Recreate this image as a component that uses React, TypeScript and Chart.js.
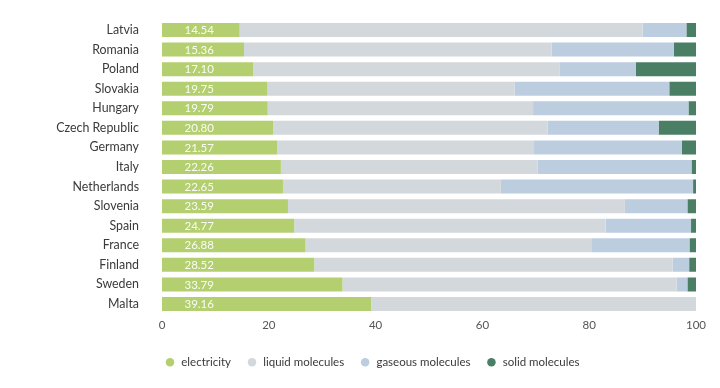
import React, { useEffect, useRef } from "react";
import { Chart, registerables } from "chart.js";

Chart.register(...registerables);

const countries = [
  "Latvia", "Romania", "Poland", "Slovakia", "Hungary", "Czech Republic", "Germany", "Italy",
  "Netherlands", "Slovenia", "Spain", "France", "Finland", "Sweden", "Malta",
];
const electricity = [14.54, 15.36, 17.1, 19.75, 19.79, 20.8, 21.57, 22.26, 22.65, 23.59, 24.77, 26.88, 28.52, 33.79, 39.16];
const liquidMolecules = [75.46, 57.6, 57.4, 46.25, 49.7, 51.4, 48.1, 48.1, 40.8, 63.1, 58.3, 53.5, 67.1, 62.6, 60.84];
const gaseousMolecules = [8.2, 22.9, 14.2, 29.0, 29.1, 20.8, 27.7, 28.8, 36.0, 11.7, 16.0, 18.4, 3.1, 2.0, 0];
const solidMolecules = [1.8, 4.14, 11.3, 5.0, 1.41, 7.0, 2.63, 0.84, 0.55, 1.61, 0.93, 1.22, 1.28, 1.61, 0];
const xTicks = [0, 20, 40, 60, 80, 100];

const FONT = "Lato, sans-serif";

const valueLabels = {
  id: "valueLabels",
  afterDatasetsDraw(chart: any) {
    const meta = chart.getDatasetMeta(0);
    const ctx = chart.ctx;
    ctx.save();
    ctx.font = `11.5px ${FONT}`;
    ctx.fillStyle = "rgba(255,255,255,0.92)";
    ctx.textAlign = "left";
    ctx.textBaseline = "middle";
    meta.data.forEach((el: any, i: number) => {
      ctx.fillText(electricity[i].toFixed(2), el.base + 22.5, el.y + 0.5);
    });
    ctx.restore();
  },
};

export default function App() {
  const ref = useRef<HTMLCanvasElement | null>(null);
  useEffect(() => {
    if (!ref.current) return;
    const chart = new Chart(ref.current, {
      type: "bar",
      data: {
        labels: countries,
        datasets: [
          { label: "electricity", data: electricity, backgroundColor: "#b4cf70" },
          { label: "liquid molecules", data: liquidMolecules, backgroundColor: "#d3d8dc" },
          { label: "gaseous molecules", data: gaseousMolecules, backgroundColor: "#bccde0" },
          { label: "solid molecules", data: solidMolecules, backgroundColor: "#4a7f65" },
        ],
      },
      options: {
        indexAxis: "y",
        animation: false,
        responsive: true,
        maintainAspectRatio: false,
        datasets: { bar: { categoryPercentage: 1, barPercentage: 0.715, borderWidth: 0 } },
        layout: { padding: { left: 40, right: 16, top: 12.2, bottom: 2 } },
        scales: {
          x: {
            stacked: true,
            min: 0,
            max: 100,
            afterBuildTicks: (scale: any) => {
              scale.ticks = xTicks.map((v) => ({ value: v }));
            },
            afterFit: (scale: any) => {
              scale.height = 27.2;
            },
            grid: { display: false, drawTicks: false },
            border: { display: false },
            ticks: { color: "#555", font: { family: FONT, size: 11.5 }, padding: 5 },
          },
          y: {
            stacked: true,
            grid: { display: false, drawTicks: false },
            border: { display: false },
            afterFit: (scale: any) => {
              scale.width = 114;
              scale.paddingTop = 0;
              scale.paddingBottom = 0;
            },
            ticks: { color: "#3a3a3a", font: { family: FONT, size: 12.4 }, padding: 23 },
          },
        },
        plugins: {
          legend: {
            position: "bottom",
            labels: {
              usePointStyle: true,
              pointStyle: "circle",
              boxWidth: 11,
              boxHeight: 6,
              padding: 15.5,
              color: "#3a3a3a",
              font: { family: FONT, size: 11.5 },
            },
          },
          tooltip: { enabled: false },
        },
      },
      plugins: [valueLabels],
    });
    return () => chart.destroy();
  }, []);
  return (
    <div style={{ width: 704, height: 372, position: "relative" }}>
      <canvas ref={ref} />
    </div>
  );
}
